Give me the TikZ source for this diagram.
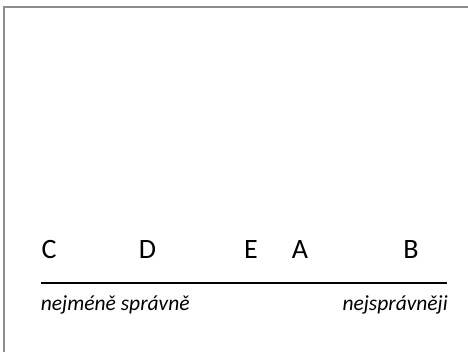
\documentclass[tikz,border=0pt]{standalone}
\usepackage{fontspec}
\setmainfont{Carlito}
\begin{document}
\begin{tikzpicture}[x=1pt,y=1pt,
  frameline/.style={draw=black!45, line width=1.5pt},
  letter/.style={anchor=base, inner sep=0pt, font=\fontsize{28}{32}\selectfont},
  caption/.style={anchor=base, inner sep=0pt, font=\fontsize{21.5}{25}\selectfont\itshape},
  scale line/.style={draw=black, line width=2pt}]
  \useasboundingbox (0,0) rectangle (468,352);
  % partial frame: top and left edges only
  \coordinate (fl) at (4,0);
  \coordinate (fc) at (4,345);
  \coordinate (fr) at (468,345);
  \draw[frameline] (fl) -- (fc) -- (fr);
  % ordering of the items
  \node[letter] (C) at (49,93.7) {C};
  \node[letter] (D) at (147.5,93.7) {D};
  \node[letter] (E) at (251,93.7) {E};
  \node[letter] (A) at (300,93.7) {A};
  \node[letter] (B) at (411,93.7) {B};
  % the scale
  \coordinate (sl) at (40.7,68.7);
  \coordinate (sr) at (447,68.7);
  \draw[scale line] (sl) -- (sr);
  % end labels
  \node[caption, anchor=base west] (lo) at (40.7,41.3) {nejméně správně};
  \node[caption, anchor=base east] (hi) at (448,41.3) {nejsprávněji};
\end{tikzpicture}
\end{document}
